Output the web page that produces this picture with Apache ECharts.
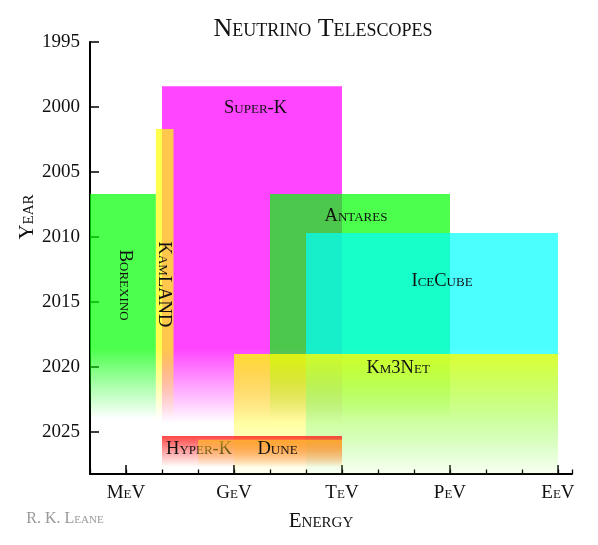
<!DOCTYPE html>
<html><head><meta charset="utf-8">
<script src="https://cdn.jsdelivr.net/npm/echarts@6/dist/echarts.min.js"></script>
<style>html,body{margin:0;padding:0;background:#fff}#c{width:598px;height:545px}</style>
</head><body><div id="c"></div>
<script>
// ---- data ----
const experiments   = ['Super-K','Borexino','KamLAND','Antares','IceCube','Km3Net','Hyper-K','Dune'];
const energyMinExp  = [7, 5, 6.83, 10, 11, 9, 7, 8];          // log10(E / eV)
const energyMaxExp  = [12, 6.83, 7.32, 15, 18, 18, 12, 12];
const startYear     = [1998.4, 2006.7, 2001.7, 2006.7, 2009.7, 2019.0, 2025.3, 2025.6];
const fadeStartYear = [2018.6, 2018.6, 2018.6, 2018.6, 2018.6, 2019.0, 2025.3, 2025.6];
const endYear       = [2024.3, 2024.0, 2024.0, 2024.0, 2028.5, 2028.8, 2027.7, 2027.7];
const energyTickExp    = [6, 9, 12, 15, 18];
const energyTickLabels = ['MeV', 'GeV', 'TeV', 'PeV', 'EeV'];
const yearTicks = [1995, 2000, 2005, 2010, 2015, 2020, 2025];

// ---- styling / layout ----
const rgb   = ['255,0,255','0,255,0','255,255,0','0,255,0','0,255,255','255,255,0','255,0,0','255,200,40'];
const alpha = [0.73, 0.7, 0.7, 0.7, 0.7, 0.8, 0.72, 0.7];
const labelAnchor = { // in data units (energy exponent, year), rotation
  'Super-K': [9.6, 2000.1, 0], 'Borexino': [5.96, 2013.7, -90], 'KamLAND': [7.05, 2013.65, -90],
  'Antares': [12.39, 2008.4, 0], 'IceCube': [14.78, 2013.4, 0], 'Km3Net': [13.56, 2020.05, 0],
  'Hyper-K': [8.03, 2026.35, 0], 'Dune': [10.21, 2026.35, 0]
};
const SERIF = '"Liberation Serif", "Times New Roman", serif';

const chart = echarts.init(document.getElementById('c'), null, {renderer: 'canvas'});
const data = experiments.map((n, i) => [energyMinExp[i], startYear[i], energyMaxExp[i], endYear[i], fadeStartYear[i]]);

chart.setOption({
  animation: false,
  backgroundColor: '#fff',
  grid: {left: 90, right: 26, top: 42, bottom: 71},
  xAxis: [{
    type: 'value', min: 5, max: 18.39, interval: 1,
    axisLine: {show: true, lineStyle: {color: '#000', width: 2}},
    axisTick: {show: true, inside: true, length: 4.5, lineStyle: {color: '#000', width: 1.3}},
    axisLabel: {show: false}, splitLine: {show: false}
  }, {
    type: 'value', min: 5, max: 18.39, position: 'bottom',
    axisLine: {show: false},
    axisTick: {show: true, inside: true, length: 9, customValues: energyTickExp, lineStyle: {color: '#000', width: 1.5}},
    axisLabel: {show: true, customValues: energyTickExp, margin: 10, color: '#111',
      fontFamily: SERIF, fontSize: 19, fontStyle: 'small-caps',
      formatter: v => energyTickLabels[energyTickExp.indexOf(Math.round(v))] || ''},
    splitLine: {show: false}
  }],
  yAxis: {
    type: 'value', inverse: true, min: 1995, max: 2028.23, interval: 5,
    axisLine: {show: true, lineStyle: {color: '#000', width: 2}},
    axisTick: {show: true, inside: true, length: 9, lineStyle: {color: '#000', width: 1.5}},
    axisLabel: {margin: 10, color: '#111', fontFamily: SERIF, fontSize: 19,
      formatter: v => yearTicks.includes(v) ? String(v) : ''},
    splitLine: {show: false}
  },
  graphic: [
    {type: 'text', x: 323, y: 29, style: {text: 'Neutrino Telescopes', font: 'small-caps 26px ' + SERIF, fill: '#111', textAlign: 'center', textVerticalAlign: 'middle'}},
    {type: 'text', x: 321, y: 521, style: {text: 'Energy', font: 'small-caps 21px ' + SERIF, fill: '#111', textAlign: 'center', textVerticalAlign: 'middle'}},
    {type: 'text', x: 27, y: 217, rotation: Math.PI / 2, style: {text: 'Year', font: 'small-caps 21px ' + SERIF, fill: '#111', textAlign: 'center', textVerticalAlign: 'middle'}},
    {type: 'text', x: 65, y: 519, style: {text: 'R. K. Leane', font: 'small-caps 16px ' + SERIF, fill: '#999', textAlign: 'center', textVerticalAlign: 'middle'}}
  ],
  series: [{
    type: 'custom', xAxisIndex: 0, yAxisIndex: 0, clip: true,
    data: data,
    renderItem: function (params, api) {
      const i = params.dataIndex;
      const p1 = api.coord([api.value(0), api.value(1)]);
      const p2 = api.coord([api.value(2), api.value(3)]);
      const y0 = api.value(1), y1 = api.value(3), yf = api.value(4);
      const f = Math.max(0, Math.min(1, (yf - y0) / (y1 - y0)));
      const c = rgb[i], a = alpha[i];
      const fill = new echarts.graphic.LinearGradient(0, 0, 0, 1, [
        {offset: 0, color: 'rgba(' + c + ',' + a + ')'},
        {offset: f, color: 'rgba(' + c + ',' + a + ')'},
        {offset: 1, color: 'rgba(' + c + ',0)'}
      ]);
      const la = labelAnchor[experiments[i]];
      const lp = api.coord([la[0], la[1]]);
      return {
        type: 'group',
        children: [
          {type: 'rect', shape: {x: p1[0], y: p1[1], width: p2[0] - p1[0], height: p2[1] - p1[1]}, style: {fill: fill}},
          {type: 'text', x: lp[0], y: lp[1], rotation: la[2] * Math.PI / 180,
            style: {text: experiments[i], font: 'small-caps 18.5px ' + SERIF, fill: '#111', textAlign: 'center', textVerticalAlign: 'middle'}}
        ]
      };
    }
  }]
});
</script></body></html>
